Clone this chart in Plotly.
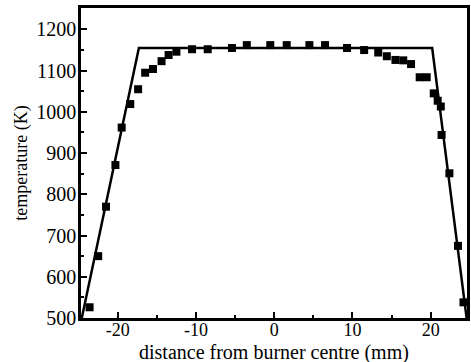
import plotly.graph_objects as go

# measured points
x_pts = [-23.6, -22.5, -21.5, -20.3, -19.5, -18.4, -17.4, -16.5, -15.5, -14.4, -13.5, -12.5,
         -10.5, -8.5, -5.4, -3.5, -0.5, 1.6, 4.5, 6.5, 9.3, 11.5, 13.3, 14.4, 15.5, 16.5,
         17.5, 18.6, 19.5, 20.4, 20.9, 21.3, 21.4, 22.4, 23.5, 24.2]
t_pts = [526, 650, 770, 871, 962, 1019, 1055, 1095, 1104, 1123, 1138, 1146,
         1152, 1152, 1155, 1162, 1162, 1162, 1162, 1162, 1155, 1150, 1144, 1135, 1126, 1125,
         1116, 1084, 1084, 1045, 1027, 1013, 944, 851, 675, 538]

# model profile (trapezoid)
x_fit = [-24.6, -17.3, 20.2, 24.6]
t_fit = [500, 1155, 1155, 500]

x_ticks = [-20, -10, 0, 10, 20]
x_ticktext = ["-20", "-10", "0", "10", "20"]
y_ticks = [500, 600, 700, 800, 900, 1000, 1100, 1200]

fig = go.Figure()
fig.add_trace(go.Scatter(x=x_fit, y=t_fit, mode="lines",
                         line=dict(color="black", width=2.5), showlegend=False, cliponaxis=False))
fig.add_trace(go.Scatter(x=x_pts, y=t_pts, mode="markers",
                         marker=dict(symbol="square", size=8, color="black"), showlegend=False))

font = dict(family="Liberation Serif", size=20, color="black")
fig.update_layout(
    width=471, height=362,
    margin=dict(l=81, r=1, t=8, b=44),
    paper_bgcolor="white", plot_bgcolor="white",
    font=font,
    xaxis=dict(range=[-24.7, 24.65], tickvals=x_ticks, ticktext=x_ticktext, ticks="inside",
               ticklen=6, tickwidth=1.5, tickcolor="black", ticklabelstandoff=-6,
               minor=dict(dtick=5, tick0=0, ticks="inside", ticklen=3, tickcolor="black"),
               showline=True, linecolor="black", linewidth=2.5, mirror=True,
               showgrid=False, zeroline=False,
               tickfont=dict(size=18)),
    yaxis=dict(range=[500, 1252], tickvals=y_ticks,
               ticks="inside", ticklen=6, tickwidth=1.5, tickcolor="black", ticklabelstandoff=-2,
               minor=dict(dtick=50, tick0=0, ticks="inside", ticklen=3, tickcolor="black"),
               showline=True, linecolor="black", linewidth=2.5, mirror=True,
               showgrid=False, zeroline=False,
               title=dict(text="temperature (K)", standoff=4,
                          font=dict(family="Liberation Serif", size=18)),
               tickfont=dict(size=20)),
    annotations=[dict(text="distance from burner centre (mm)", xref="paper", yref="paper",
                      x=0.5, y=-0.112, xanchor="center", yanchor="middle", showarrow=False,
                      font=dict(family="Liberation Serif", size=20, color="black"))],
)
fig.write_html("out.html")
